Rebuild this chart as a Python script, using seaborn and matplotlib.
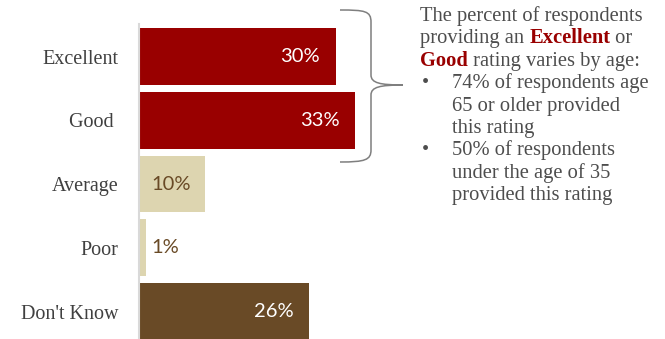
import matplotlib
matplotlib.use("Agg")
import matplotlib.pyplot as plt
import seaborn as sns
import pandas as pd
from matplotlib.path import Path
from matplotlib.patches import PathPatch

categories = ["Excellent", "Good", "Average", "Poor", "Don't Know"]
tick_labels = ["Excellent", "Good ", "Average", "Poor", "Don't Know"]
values = [30, 33, 10, 1, 26]
bar_colors = ["#990000", "#990000", "#DDD5B0", "#DDD5B0", "#694A26"]
label_colors = ["white", "white", "#694A26", "#694A26", "white"]

note_lines = [
    [("The percent of respondents", False)],
    [("providing an ", False), ("Excellent", True), (" or", False)],
    [("Good", True), (" rating varies by age:", False)],
]
bullets = [
    ["74% of respondents age", "65 or older provided", "this rating"],
    ["50% of respondents", "under the age of 35", "provided this rating"],
]

W, H = 665, 339
sns.set_theme(style="white")
plt.rcParams["font.family"] = ["Liberation Serif", "DejaVu Serif"]

fig = plt.figure(figsize=(W / 100, H / 100), dpi=100)
ax_left, ax_top, ax_bottom = 139, 24, 339
px_per_unit = 6.55
xmax = 35
ax = fig.add_axes([ax_left / W, 1 - ax_bottom / H, xmax * px_per_unit / W, (ax_bottom - ax_top) / H])

df = pd.DataFrame({"cat": categories, "val": values})
sns.barplot(data=df, x="val", y="cat", hue="cat", palette=dict(zip(categories, bar_colors)),
            order=categories, orient="h", width=0.89, legend=False, ax=ax, saturation=1)
for p in ax.patches:
    p.set_edgecolor("none")

ax.set_xlim(0, xmax)
ax.set_ylim(4.43, -0.51)
ax.set_xlabel("")
ax.set_ylabel("")
ax.set_xticks([])
ax.set_yticks(range(len(categories)))
ax.set_yticklabels(tick_labels)
for s in ["top", "right", "bottom"]:
    ax.spines[s].set_visible(False)
ax.spines["left"].set_color("#D9D9D9")
ax.spines["left"].set_linewidth(1.5)
ax.tick_params(axis="y", length=0, pad=15, labelsize=14.5, labelcolor="#404040")
for lbl in ax.get_yticklabels():
    lbl.set_fontfamily(["Liberation Serif"])

for i, (v, lc) in enumerate(zip(values, label_colors)):
    if lc == "white":
        ax.annotate(f"{v}%", xy=(v, i), xytext=(-11, 0), textcoords="offset points",
                    ha="right", va="center", color=lc, fontsize=14.5, family=["Lato"])
    else:
        ax.annotate(f"{v}%", xy=(0, i), xytext=(9, 0), textcoords="offset points",
                    ha="left", va="center", color=lc, fontsize=14.5, family=["Lato"])

def fx(x):
    return x / W

def fy(y):
    return 1 - y / H

# curly brace
verts = [(340, 10), (365, 10), (371, 11), (371, 22), (371, 75),
         (371, 83), (380, 85), (403, 85),
         (380, 85), (371, 87), (371, 95), (371, 150),
         (371, 160), (365, 162), (340, 162)]
codes = [Path.MOVETO, Path.CURVE4, Path.CURVE4, Path.CURVE4, Path.LINETO,
         Path.CURVE4, Path.CURVE4, Path.CURVE4,
         Path.CURVE4, Path.CURVE4, Path.CURVE4, Path.LINETO,
         Path.CURVE4, Path.CURVE4, Path.CURVE4]
path = Path([(fx(x), fy(y)) for x, y in verts], codes)
fig.add_artist(PathPatch(path, facecolor="none", edgecolor="#7F7F7F", lw=1.1, transform=fig.transFigure))

text_color = "#4D4D4D"
fs = 14.8
renderer = fig.canvas.get_renderer()
baseline0, step = 21, 22.4
row = 0
for line in note_lines:
    x = 420
    for txt, bold in line:
        t = fig.text(fx(x), fy(baseline0 + step * row), txt, fontsize=fs, va="baseline", ha="left",
                     color="#990000" if bold else text_color, fontweight="bold" if bold else "normal")
        x += t.get_window_extent(renderer).width
    row += 1
for group in bullets:
    fig.text(fx(422), fy(baseline0 + step * row), "•", fontsize=fs, va="baseline", ha="left", color=text_color)
    for txt in group:
        fig.text(fx(452), fy(baseline0 + step * row), txt, fontsize=fs, va="baseline", ha="left", color=text_color)
        row += 1

fig.savefig("out.png", dpi=100, facecolor="white")
